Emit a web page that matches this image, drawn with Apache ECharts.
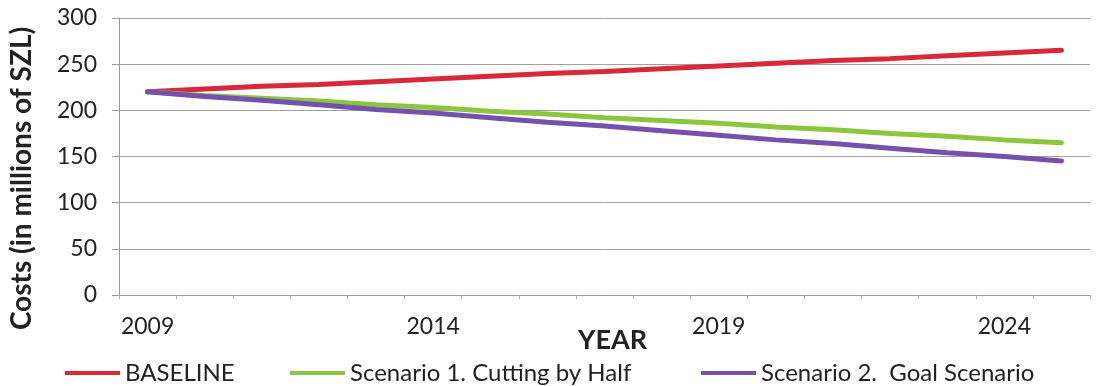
<!DOCTYPE html>
<html>
<head>
<meta charset="utf-8">
<script src="https://cdn.jsdelivr.net/npm/echarts@6/dist/echarts.min.js"></script>
<style>
html,body{margin:0;padding:0;background:#fff;}
#chart{width:1097px;height:386px;}
</style>
</head>
<body>
<div id="chart"></div>
<script>
const years = ['2009','2010','2011','2012','2013','2014','2015','2016','2017','2018','2019','2020','2021','2022','2023','2024','2025'];
const baseline = [220,223,226,228,231,234,237,240,242,245,248,251,254,256,259,262,265];
const scenario1 = [220,216,213,210,206,203,199,196,192,189,186,182,179,175,172,168,165];
const scenario2 = [220,215,211,206,201,197,192,187,183,178,173,168,164,159,154,150,145];
const seriesNames = ['BASELINE','Scenario 1. Cutting by Half','Scenario 2.  Goal Scenario'];
const colors = ['#d8283a','#8cc63e','#7550ad'];

const FONT = 'Lato';
const chart = echarts.init(document.getElementById('chart'), null, {renderer:'canvas'});
const legendBase = {
  orient:'horizontal', top:361, padding:0, icon:'rect', itemWidth:55, itemHeight:4,
  textStyle:{fontFamily:FONT, fontSize:24, color:'#222'}, selectedMode:false
};
chart.setOption({
  backgroundColor:'#fff',
  animation:false,
  grid:{left:119, right:7, top:18, bottom:91},
  legend:[
    Object.assign({}, legendBase, {left:65, data:[seriesNames[0]]}),
    Object.assign({}, legendBase, {left:290, data:[seriesNames[1]]}),
    Object.assign({}, legendBase, {left:701, data:[seriesNames[2]]})
  ],
  xAxis:{
    type:'category', data:years, boundaryGap:true,
    name:'YEAR', nameLocation:'middle', nameGap:32, nameMoveOverlap:false,
    nameTextStyle:{fontFamily:FONT, fontSize:27, fontWeight:'bold', color:'#222', padding:[0,0,0,16]},
    axisLine:{lineStyle:{color:'#999', width:1}},
    axisTick:{show:true, interval:0, length:4, lineStyle:{color:'#aaa'}},
    axisLabel:{interval:4, margin:20, fontFamily:FONT, fontSize:23, color:'#222'},
    splitLine:{show:false}
  },
  yAxis:{
    type:'value', min:0, max:300, interval:50,
    name:'Costs (in millions of SZL)', nameLocation:'middle', nameGap:83,
    nameTextStyle:{fontFamily:FONT, fontSize:28, fontWeight:'bold', color:'#222', padding:[0,44,0,0]},
    axisLine:{show:true, lineStyle:{color:'#999', width:1}},
    axisTick:{show:true, length:7, lineStyle:{color:'#999'}},
    axisLabel:{margin:22, fontFamily:FONT, fontSize:23, color:'#222'},
    splitLine:{show:true, lineStyle:{color:'#a0a0a0', width:1}}
  },
  series:[
    {name:seriesNames[0], type:'line', data:baseline, symbol:'none', lineStyle:{width:5, color:colors[0], cap:'round'}, itemStyle:{color:colors[0]}},
    {name:seriesNames[1], type:'line', data:scenario1, symbol:'none', lineStyle:{width:5, color:colors[1], cap:'round'}, itemStyle:{color:colors[1]}},
    {name:seriesNames[2], type:'line', data:scenario2, symbol:'none', lineStyle:{width:5, color:colors[2], cap:'round'}, itemStyle:{color:colors[2]}}
  ]
});
</script>
</body>
</html>
